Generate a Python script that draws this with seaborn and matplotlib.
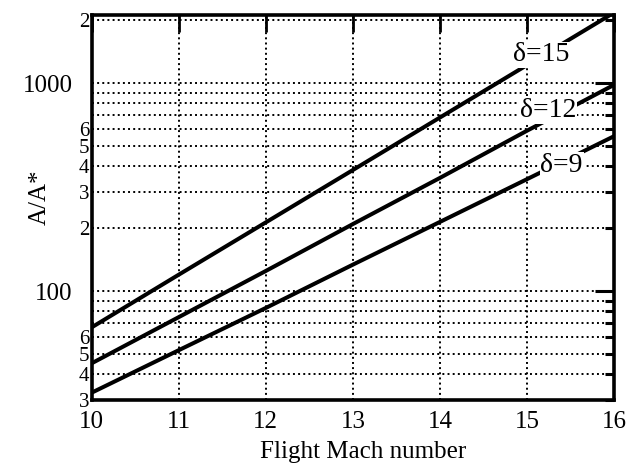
import matplotlib
matplotlib.use("Agg")
import matplotlib.pyplot as plt
import seaborn as sns
import pandas as pd
from matplotlib.ticker import FixedLocator, FixedFormatter, NullLocator

# Area ratio A/A* versus flight Mach number for three wedge angles
mach = [10, 11, 12, 13, 14, 15, 16]
ratio_d15 = [67, 120, 214, 382, 683, 1220, 2180]
ratio_d12 = [45, 75, 125, 210, 350, 590, 980]
ratio_d9 = [32.5, 52, 83, 134, 215, 345, 555]
series_names = ["δ=15", "δ=12", "δ=9"]

# curve label anchors (Mach, A/A*)
label_x = [15.17, 15.24, 15.40]
label_y = [1365, 741, 403]

major_y = [100, 1000]
major_y_labels = ["100", "1000"]
minor_y = [30, 40, 50, 60, 70, 80, 90, 200, 300, 400, 500, 600, 700, 800, 900, 2000]
minor_y_labels = ["3", "4", "5", "6", "", "", "", "2", "3", "4", "5", "6", "", "", "", "2"]
x_ticks = [10, 11, 12, 13, 14, 15, 16]

df = pd.concat([
    pd.DataFrame({"Mach": mach, "ratio": vals, "delta": name})
    for name, vals in zip(series_names, [ratio_d15, ratio_d12, ratio_d9])
])

sns.set_theme(style="white")
plt.rcParams["font.family"] = ["Liberation Serif", "DejaVu Serif"]

fig = plt.figure(figsize=(6.29, 4.76), dpi=100)
ax = fig.add_axes([0.146, 0.160, 0.830, 0.808])

sns.lineplot(data=df, x="Mach", y="ratio", hue="delta",
             palette=["black"] * 3, linewidth=2.9, legend=False, ax=ax,
             zorder=3)

ax.set_yscale("log")
ax.set_xlim(10, 16)
ax.set_ylim(30, 2120)

ax.yaxis.set_major_locator(FixedLocator(major_y))
ax.yaxis.set_major_formatter(FixedFormatter(major_y_labels))
ax.yaxis.set_minor_locator(FixedLocator(minor_y))
ax.yaxis.set_minor_formatter(FixedFormatter(minor_y_labels))
ax.xaxis.set_major_locator(FixedLocator(x_ticks))
ax.xaxis.set_minor_locator(NullLocator())

ax.grid(True, which="both", axis="y", linestyle=":", color="black", linewidth=1.4)
ax.grid(True, which="major", axis="x", linestyle=":", color="black", linewidth=1.4)

for s in ax.spines.values():
    s.set_color("black")
    s.set_linewidth(2.6)

ax.tick_params(axis="both", which="both", direction="in", color="black",
               top=True, right=True, labelcolor="black")
ax.tick_params(axis="y", which="major", length=14, width=2.2, pad=14, labelsize=18)
ax.tick_params(axis="y", which="minor", length=6.5, width=2.2, pad=2, labelsize=15)
ax.tick_params(axis="x", which="major", length=12, width=2.0, pad=8, labelsize=18)

ax.set_xlabel("Flight Mach number", fontsize=18, color="black")
ax.set_ylabel("A/A*", fontsize=18, color="black")
ax.xaxis.set_label_coords(0.519, -0.108)
ax.yaxis.set_label_coords(-0.10, 0.527)
ax.yaxis.label.set_verticalalignment("center")

for name, lx, ly in zip(series_names, label_x, label_y):
    ax.text(lx, ly, name, fontsize=20, color="black", ha="center", va="center",
            zorder=5, bbox=dict(facecolor="white", edgecolor="none", pad=0.5))

fig.savefig("out.png", dpi=100)
